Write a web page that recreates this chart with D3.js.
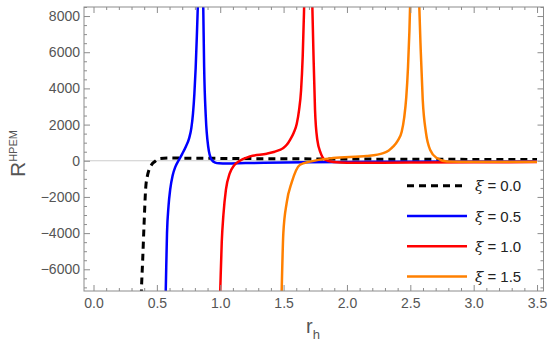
<!DOCTYPE html>
<html>
<head>
<meta charset="utf-8">
<script src="https://cdn.jsdelivr.net/npm/d3@7"></script>
<style>
body { margin: 0; background: #fff; }
text { font-family: "Liberation Sans", Arial, sans-serif; }
</style>
</head>
<body>
<div class="content"></div>
<script>
// values (null = break at the pole)
var xiLabels = ['0.0', '0.5', '1.0', '1.5'];
var xiColors = ['#000000', '#0000ff', '#ff0000', '#ff8000'];

var rXi00 = [0.370, 0.378, 0.388, 0.399, 0.412, 0.425, 0.438, 0.460, 0.485, 0.520, 0.600, 0.800, 1.000, 1.500, 2.000, 2.500, 3.000, 3.500];
var RXi00 = [-9500, -7200, -5500, -3500, -1500, -850, -500, -200, -40, 120, 150, 140, 130, 110, 95, 85, 75, 65];

var rXi05 = [0.562, 0.570, 0.580, 0.592, 0.605, 0.625, 0.645, 0.670, 0.700, 0.730, 0.755, 0.772, 0.785, 0.796, 0.806, 0.815, 0.823, 0.835, 0.845,
             0.857, 0.866, 0.873, 0.886, 0.905, 0.932, 0.960, 0.990, 1.050, 1.200, 1.500, 2.000, 2.500, 3.000, 3.500];
var RXi05 = [-9500, -7200, -4000, -2500, -1600, -800, -350, 0, 380, 800, 1250, 1800, 2600, 3700, 5100, 6800, 8500, 12000, null,
             12000, 8500, 5200, 2450, 790, 55, -100, -140, -150, -130, -100, -70, -50, -40, -30];

var rXi10 = [0.990, 1.000, 1.012, 1.025, 1.045, 1.075, 1.110, 1.155, 1.235, 1.367, 1.430, 1.470, 1.498, 1.525, 1.551, 1.580, 1.604, 1.622, 1.638, 1.651, 1.661, 1.672, 1.690,
             1.715, 1.727, 1.735, 1.748, 1.766, 1.793, 1.827, 1.893, 2.000, 2.500, 3.000, 3.500];
var RXi10 = [-9500, -7200, -4500, -3000, -1600, -700, -250, 0, 240, 390, 500, 600, 700, 880, 1160, 1550, 2050, 2800, 3900, 5800, 8200, 12000, null,
             12000, 8500, 6140, 2820, 1160, 425, 55, -70, -110, -100, -85, -75];

var rXi15 = [1.478, 1.485, 1.498, 1.525, 1.564, 1.630, 1.709, 1.890, 2.156, 2.287, 2.330, 2.366, 2.400, 2.432, 2.452, 2.468, 2.482, 2.493, 2.502, 2.512, 2.540,
             2.560, 2.571, 2.582, 2.598, 2.624, 2.656, 2.709, 2.788, 3.000, 3.500];
var RXi15 = [-9500, -7200, -4000, -2300, -1200, -220, -50, 150, 260, 425, 570, 790, 1100, 1600, 2400, 3500, 5200, 7200, 9500, 13000, null,
             12000, 8500, 6140, 3370, 1530, 610, 150, -40, -60, -50];

var xMajorTicks = [0, 0.5, 1.0, 1.5, 2.0, 2.5, 3.0, 3.5];
var yMajorTicks = [-6000, -4000, -2000, 0, 2000, 4000, 6000, 8000];

var chart = {
    width: 550,
    height: 344,
    left: 84,
    right: 543.5,
    top: 7,
    bottom: 291,
    frame: '#8c8c8c',
    label: '#555555'
};

var series = [
    { r: rXi00, R: RXi00 },
    { r: rXi05, R: RXi05 },
    { r: rXi10, R: RXi10 },
    { r: rXi15, R: RXi15 }
];

var svg = d3.select('.content').append('svg')
    .attr('width', chart.width)
    .attr('height', chart.height);

var x = d3.scaleLinear().domain([-0.075, 3.551]).range([chart.left, chart.right]);
var y = d3.scaleLinear().domain([-7200, 8500]).range([chart.bottom, chart.top]);

svg.append('clipPath').attr('id', 'plotclip')
    .append('rect')
    .attr('x', chart.left).attr('y', chart.top)
    .attr('width', chart.right - chart.left)
    .attr('height', chart.bottom - chart.top);

// zero line
svg.append('line')
    .attr('x1', chart.left).attr('x2', chart.right)
    .attr('y1', y(0)).attr('y2', y(0))
    .style('stroke', '#cccccc')
    .style('stroke-width', 1);

var line = d3.line()
    .defined(function(d) { return d[1] !== null; })
    .x(function(d) { return x(d[0]); })
    .y(function(d) { return y(d[1]); })
    .curve(d3.curveMonotoneX);

var plot = svg.append('g').attr('clip-path', 'url(#plotclip)');
series.forEach(function(s, i) {
    var pts = s.r.map(function(r, j) { return [r, s.R[j]]; });
    plot.append('path')
        .attr('d', line(pts))
        .style('fill', 'none')
        .style('stroke', xiColors[i])
        .style('stroke-width', i === 0 ? 3 : 2.5)
        .style('stroke-dasharray', i === 0 ? '7,5' : null);
});

// frame
svg.append('rect')
    .attr('x', chart.left).attr('y', chart.top)
    .attr('width', chart.right - chart.left)
    .attr('height', chart.bottom - chart.top)
    .style('fill', 'none')
    .style('stroke', chart.frame)
    .style('stroke-width', 1);

var xMinor = d3.range(0, 36).map(function(i) { return i / 10; })
    .filter(function(v) { return Math.round(v * 10) % 5 !== 0; });
var yMinor = d3.range(-14, 18).map(function(i) { return i * 500; })
    .filter(function(v) { return v % 2000 !== 0; });

function styleAxis(g, showText) {
    g.select('.domain').remove();
    g.selectAll('.tick line').style('stroke', chart.frame);
    g.selectAll('.tick text')
        .style('fill', chart.label)
        .style('font-size', '14px')
        .style('display', showText ? null : 'none');
}

var fmtX = d3.format('.1f');
var fmtY = d3.format('d');

svg.append('g').attr('transform', 'translate(0,' + chart.bottom + ')')
    .call(d3.axisBottom(x).tickValues(xMajorTicks).tickSize(-6).tickPadding(7).tickFormat(fmtX))
    .call(styleAxis, true);
svg.append('g').attr('transform', 'translate(0,' + chart.bottom + ')')
    .call(d3.axisBottom(x).tickValues(xMinor).tickSize(-3).tickFormat(''))
    .call(styleAxis, false);
svg.append('g').attr('transform', 'translate(0,' + chart.top + ')')
    .call(d3.axisTop(x).tickValues(xMajorTicks).tickSize(-6).tickFormat(''))
    .call(styleAxis, false);
svg.append('g').attr('transform', 'translate(0,' + chart.top + ')')
    .call(d3.axisTop(x).tickValues(xMinor).tickSize(-3).tickFormat(''))
    .call(styleAxis, false);

svg.append('g').attr('transform', 'translate(' + chart.left + ',0)')
    .call(d3.axisLeft(y).tickValues(yMajorTicks).tickSize(-6).tickPadding(4).tickFormat(fmtY))
    .call(styleAxis, true);
svg.append('g').attr('transform', 'translate(' + chart.left + ',0)')
    .call(d3.axisLeft(y).tickValues(yMinor).tickSize(-3).tickFormat(''))
    .call(styleAxis, false);
svg.append('g').attr('transform', 'translate(' + chart.right + ',0)')
    .call(d3.axisRight(y).tickValues(yMajorTicks).tickSize(-6).tickFormat(''))
    .call(styleAxis, false);
svg.append('g').attr('transform', 'translate(' + chart.right + ',0)')
    .call(d3.axisRight(y).tickValues(yMinor).tickSize(-3).tickFormat(''))
    .call(styleAxis, false);

// axis titles
var yTitle = svg.append('text')
    .attr('transform', 'translate(25,177) rotate(-90)')
    .style('fill', chart.label);
yTitle.append('tspan').style('font-size', '21px').text('R');
yTitle.append('tspan').style('font-size', '11px').attr('dy', -8).text('HPEM');

var xTitle = svg.append('text')
    .attr('x', 306).attr('y', 333)
    .style('fill', chart.label);
xTitle.append('tspan').style('font-size', '20px').text('r');
xTitle.append('tspan').style('font-size', '13px').attr('dy', 6).text('h');

// legend
var legend = svg.append('g');
xiLabels.forEach(function(lab, i) {
    var ly = 185.7 + i * 30.3;
    legend.append('line')
        .attr('x1', 407).attr('x2', 467)
        .attr('y1', ly).attr('y2', ly)
        .style('stroke', xiColors[i])
        .style('stroke-width', i === 0 ? 3 : 2.5)
        .style('stroke-dasharray', i === 0 ? '7,5' : null);
    var t = legend.append('text')
        .attr('x', 475).attr('y', ly + 5.5)
        .style('font-size', '15px')
        .style('fill', '#222');
    t.append('tspan').style('font-style', 'italic').style('font-family', '"DejaVu Serif", serif').text('ξ');
    t.append('tspan').text(' = ' + lab);
});
</script>
</body>
</html>
